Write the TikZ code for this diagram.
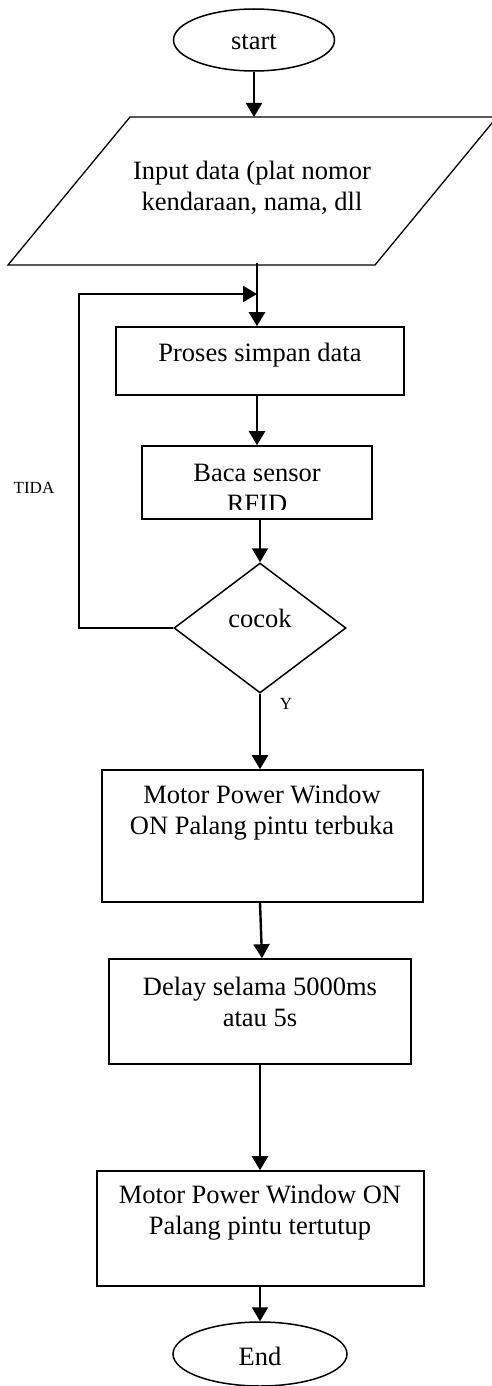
\documentclass[tikz,border=0pt]{standalone}
\usepackage{fontspec}
\setmainfont{Liberation Serif}
\usetikzlibrary{shapes.geometric,arrows.meta}
\begin{document}
\begin{tikzpicture}[x=1pt,y=-1pt,
  conn/.style={line width=2.4pt,-{Triangle[length=14pt,width=16pt]}},
  boxshape/.style={draw,line width=1.6pt,rectangle,inner sep=0pt},
  term/.style={draw,line width=1.5pt,ellipse,inner sep=0pt},
  big/.style={font=\fontsize{26.5}{31}\selectfont,align=center,inner sep=0pt},
  small/.style={font=\fontsize{17}{20}\selectfont,inner sep=0pt}]
\useasboundingbox (0,0) rectangle (491,1386);
% start
\node[term,minimum width=161pt,minimum height=62pt] (start) at (254,40) {};
\node[big] (starttxt) at (254,42) {start};
% input parallelogram
\coordinate (inTL) at (130,117);
\coordinate (inTR) at (497,117);
\coordinate (inBR) at (375,265);
\coordinate (inBL) at (8,265);
\draw[line width=1.3pt] (inTL) -- (inTR) -- (inBR) -- (inBL) -- cycle;
\coordinate (inN) at (254,117);
\coordinate (inS) at (257,263);
\node[big] (intxt) at (252,188) {Input data (plat nomor\\kendaraan, nama, dll};
% process
\node[boxshape,minimum width=288pt,minimum height=68pt] (p1) at (260,361) {};
\node[big] (p1txt) at (260,355) {Proses simpan data};
\node[boxshape,minimum width=230pt,minimum height=73pt] (p2) at (257,482.5) {};
\begin{scope}
\clip (142,446) rectangle (372,509);
\node[big] (p2txt) at (257,488) {Baca sensor\\RFID};
\end{scope}
% decision
\node[draw,line width=1.5pt,diamond,inner sep=0pt,minimum width=172pt,minimum height=130pt] (dec) at (260,628) {};
\node[big] (dectxt) at (260,618) {cocok};
% motor 1
\node[boxshape,minimum width=321pt,minimum height=132pt] (m1) at (262.5,836) {};
\node[big] (m1txt) at (262,812.5) {Motor Power Window\\ON Palang pintu terbuka};
% delay
\node[boxshape,minimum width=302pt,minimum height=105pt] (dl) at (260,1011.5) {};
\node[big] (dltxt) at (260,1002) {Delay selama 5000ms\\atau 5s};
% motor 2
\node[boxshape,minimum width=327pt,minimum height=115pt] (m2) at (260.5,1228.5) {};
\node[big] (m2txt) at (260,1212.5) {Motor Power Window ON\\Palang pintu tertutup};
% end
\node[term,minimum width=174pt,minimum height=64pt] (end) at (260,1354) {};
\node[big] (endtxt) at (260,1356) {End};
% labels
\node[small] (tida) at (34,487.5) {TIDA};
\node[small] (ylab) at (286,704) {Y};
% connectors
\coordinate (join) at (257,294);
\coordinate (loopB) at (79,628);
\coordinate (loopT) at (79,294);
\draw[conn] (start.south -| inN) -- (inN);
\draw[conn] (inS) -- (inS |- p1.north);
\draw[conn] (dec.west) -- (loopB) -- (loopT) -- (join);
\draw[conn] (p1.south -| 257,0) -- (p2.north -| 257,0);
\draw[conn] (p2.south -| dec.north) -- (dec.north);
\draw[conn] (dec.south) -- (dec.south |- m1.north);
\draw[conn] (m1.south -| 260,0) -- (dl.north -| 262,0);
\draw[conn] (dl.south -| 260,0) -- (m2.north -| 260,0);
\draw[conn] (m2.south -| 260,0) -- (end.north);
\end{tikzpicture}
\end{document}
